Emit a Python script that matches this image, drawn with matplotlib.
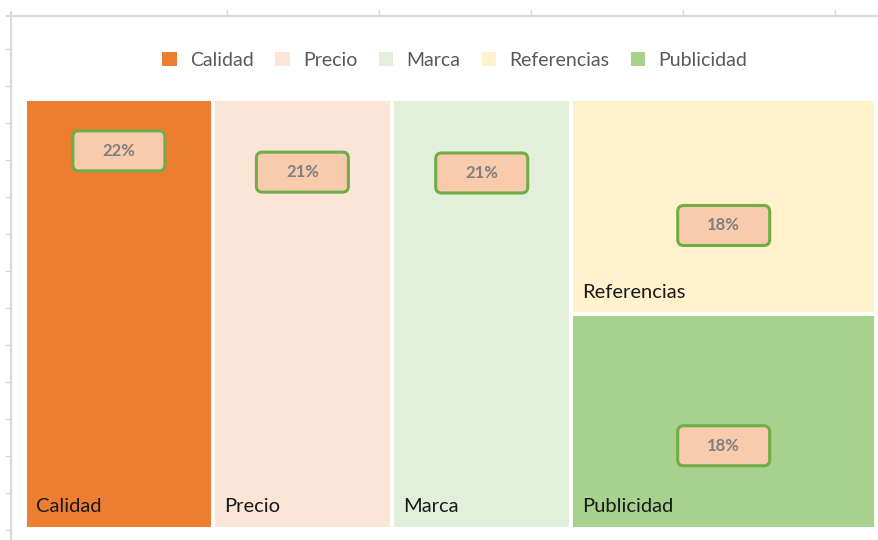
import matplotlib.pyplot as plt
from matplotlib.patches import Rectangle, FancyBboxPatch, Patch

# datos del treemap
categorias = ['Calidad', 'Precio', 'Marca', 'Referencias', 'Publicidad']
valores = [22, 21, 21, 18, 18]
colores = ['#ED7D31', '#FBE5D6', '#E2EFDA', '#FFF2CC', '#A9D18E']

# posicion de la etiqueta de % dentro de cada rectangulo (fraccion x, fraccion y desde arriba)
pos_etiqueta = [(0.5, 0.117), (0.5, 0.167), (0.5, 0.169), (0.5, 0.59), (0.5, 0.615)]

plt.rcParams['font.family'] = ['Lato', 'DejaVu Sans']

W, H = 879, 540
fig = plt.figure(figsize=(W / 100, H / 100), dpi=100)
ax = fig.add_axes([0, 0, 1, 1])
ax.set_xlim(0, W)
ax.set_ylim(H, 0)
ax.axis('off')

# lineas de la hoja de calculo detras del grafico
ax.plot([7, W], [16, 16], color='#D9D9D9', lw=1.5)
ax.plot([11, 11], [12, H], color='#D9D9D9', lw=1.5)
for xt in [227, 379, 531, 683, 835]:
    ax.plot([xt, xt], [10, 16], color='#D9D9D9', lw=1)
for yt in range(49, H, 37):
    ax.plot([6, 11], [yt, yt], color='#D9D9D9', lw=1)

# zona del treemap
x0, x1, y0, y1 = 27, 874, 101, 527
gap = 4
total = sum(valores)
# tres columnas simples + una columna con las dos ultimas apiladas
columnas = [[0], [1], [2], [3, 4]]
ancho_util = (x1 - x0) - gap * (len(columnas) - 1)
rects = [None] * len(valores)
x = x0
for col in columnas:
    s = sum(valores[i] for i in col)
    w = ancho_util * s / total
    alto_util = (y1 - y0) - gap * (len(col) - 1)
    y = y0
    for i in col:
        h = alto_util * valores[i] / s
        rects[i] = (x, y, w, h)
        y += h + gap
    x += w + gap

for i, (rx, ry, rw, rh) in enumerate(rects):
    ax.add_patch(Rectangle((rx, ry), rw, rh, facecolor=colores[i], edgecolor='none'))
    ax.text(rx + 9, ry + rh - 20, categorias[i], fontsize=14.5, color='#1a1a1a',
            ha='left', va='center')
    fx, fy = pos_etiqueta[i]
    cx, cy = rx + rw * fx, ry + rh * fy
    bw, bh = 92, 40
    ax.add_patch(FancyBboxPatch((cx - bw / 2, cy - bh / 2), bw, bh,
                                boxstyle='round,pad=0,rounding_size=6',
                                facecolor='#F8CBAD', edgecolor='#70AD47', lw=2.2))
    ax.text(cx, cy, f'{valores[i]}%', fontsize=12, fontweight='bold',
            color='#7F7F7F', ha='center', va='center')

handles = [Patch(facecolor=c, edgecolor='none') for c in colores]
leg = ax.legend(handles, categorias, loc='center', bbox_to_anchor=(455 / W, 1 - 60 / H),
                ncol=5, frameon=False, fontsize=14, handlelength=0.75, handleheight=0.75,
                handletextpad=0.7, columnspacing=1.07)
for t in leg.get_texts():
    t.set_color('#595959')

fig.savefig('out.png', dpi=100, facecolor='white')
